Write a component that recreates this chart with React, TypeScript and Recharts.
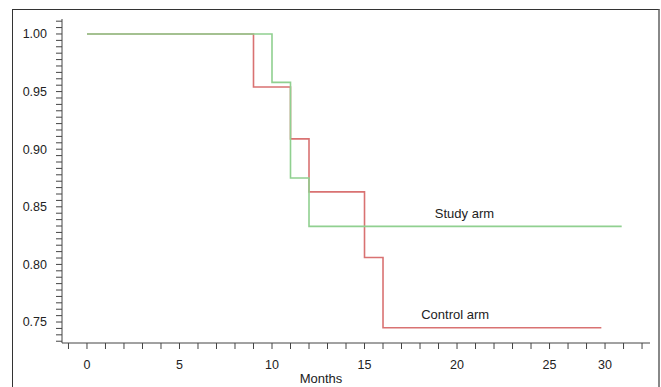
import React from 'react';
import { LineChart, Line, XAxis, YAxis, ReferenceDot } from 'recharts';

// Kaplan-Meier steps
const studyMonths = [0, 10, 11, 12, 28.9];
const studySurvival = [1.0, 0.958, 0.875, 0.833, 0.833];
const controlMonths = [0, 9, 11, 12, 15, 16, 27.8];
const controlSurvival = [1.0, 0.954, 0.909, 0.863, 0.806, 0.745, 0.745];

// axis ticks
const xMinorTicks = [-1, 0, 1, 2, 3, 4, 5, 6, 7, 8, 9, 10, 11, 12, 13, 14, 15, 16, 17, 18, 19, 20, 21, 22, 23, 24, 25, 26, 27, 28, 29, 30];
const xLabelTicks = [0, 5, 10, 15, 20, 25, 28];
const xTickLabels = ['0', '5', '10', '15', '20', '25', '30'];
const yMajorTicks = [0.75, 0.8, 0.85, 0.9, 0.95, 1.0];
const yMinorPerInterval = 9;

// annotations
const annotationTexts = ['Study arm', 'Control arm'];
const annotationMonths = [20.4, 19.9];
const annotationSurvival = [0.8446, 0.757];

const studyData = studyMonths.map((t, i) => ({ t, s: studySurvival[i] }));
const controlData = controlMonths.map((t, i) => ({ t, s: controlSurvival[i] }));

const yTicks: number[] = [];
for (let i = 0; i < yMajorTicks.length; i++) {
  yTicks.push(yMajorTicks[i]);
  const next = i < yMajorTicks.length - 1 ? yMajorTicks[i + 1] : yMajorTicks[i] + 0.05;
  const step = (next - yMajorTicks[i]) / yMinorPerInterval;
  for (let k = 1; k < yMinorPerInterval; k++) {
    const v = yMajorTicks[i] + k * step;
    if (v < 1.013) yTicks.push(v);
  }
}
for (let k = 1; k < yMinorPerInterval; k++) {
  const v = 0.75 - k * (0.05 / yMinorPerInterval);
  if (v > 0.7318) yTicks.push(v);
}
yTicks.sort((a, b) => a - b);

const FONT = '"Liberation Sans", Arial, sans-serif';

const fmtX = (v: number) => {
  const idx = xLabelTicks.indexOf(v);
  return idx >= 0 ? xTickLabels[idx] : '';
};
const fmtY = (v: number) => {
  const m = yMajorTicks.find((t) => Math.abs(t - v) < 1e-6);
  return m !== undefined ? m.toFixed(2) : '';
};

export default function App() {
  return (
    <div style={{ position: 'absolute', left: 0, top: 0, width: 661, height: 387, overflow: 'hidden', background: '#fff' }}>
      <div
        style={{
          position: 'absolute',
          left: 12,
          top: 9,
          width: 645,
          height: 400,
          borderTop: '1.5px solid #333',
          borderLeft: '1px solid #333',
          borderRight: '2px solid #888',
        }}
      />
      <div style={{ position: 'absolute', left: 0, top: 0 }}>
        <LineChart width={661} height={387} margin={{ top: 19, right: 11, bottom: 0, left: 0 }} style={{ fontFamily: FONT }}>
          <XAxis
            type="number"
            dataKey="t"
            domain={[-1.35, 30.43]}
            allowDataOverflow
            ticks={xMinorTicks}
            interval={0}
            tickFormatter={fmtX}
            tickSize={6}
            tickMargin={11}
            height={44}
            stroke="#444"
            tick={{ fill: '#222', fontSize: 12.5, fontFamily: FONT }}
            label={{ value: 'Months', position: 'insideBottom', offset: 4, dx: -35, fill: '#222', fontSize: 13, fontFamily: FONT }}
          />
          <YAxis
            type="number"
            dataKey="s"
            domain={[0.7318, 1.013]}
            allowDataOverflow
            ticks={yTicks}
            interval={0}
            tickFormatter={fmtY}
            tickSize={6}
            tickMargin={9}
            width={62}
            stroke="#444"
            tick={{ fill: '#222', fontSize: 12.5, fontFamily: FONT }}
          />
          <Line
            data={controlData}
            dataKey="s"
            type="stepAfter"
            stroke="#d97272"
            strokeWidth={1.6}
            dot={false}
            isAnimationActive={false}
          />
          <Line
            data={studyData}
            dataKey="s"
            type="stepAfter"
            stroke="#90d090"
            strokeWidth={1.6}
            dot={false}
            isAnimationActive={false}
          />
          {annotationTexts.map((txt, i) => (
            <ReferenceDot
              key={txt}
              x={annotationMonths[i]}
              y={annotationSurvival[i]}
              r={0}
              fill="none"
              stroke="none"
              label={{ value: txt, position: 'center', fill: '#222', fontSize: 13, fontFamily: FONT }}
            />
          ))}
        </LineChart>
      </div>
    </div>
  );
}
